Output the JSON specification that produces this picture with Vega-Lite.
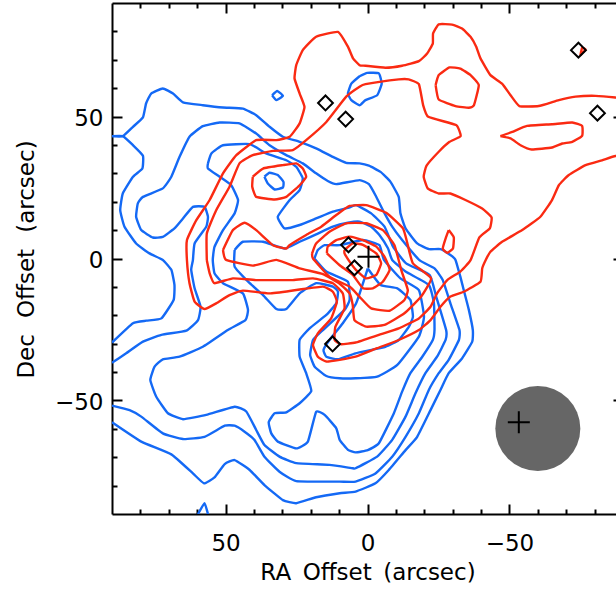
{"$schema":"https://vega.github.io/schema/vega-lite/v6.json","width":511,"height":511,"autosize":{"type":"none"},"padding":{"left":112,"top":3,"right":0,"bottom":78},"background":"white","config":{"view":{"stroke":null},"axis":{"grid":false,"domainColor":"black","domainWidth":2,"tickColor":"black","tickWidth":2,"labelFont":"DejaVu Sans","titleFont":"DejaVu Sans","labelFontSize":23,"titleFontSize":23,"titleFontWeight":"normal","labelColor":"black","titleColor":"black"}},"datasets":{"blue":[
{"c":"a","x":90,"y":43.1},{"c":"a","x":86.2,"y":43.1},{"c":"a","x":82.6,"y":46.4},{"c":"a","x":79.1,"y":49.7},{"c":"a","x":78,"y":54.6},{"c":"a","x":76.2,"y":58.1},{"c":"a","x":72.1,"y":59.9},{"c":"a","x":68.5,"y":58.1},{"c":"a","x":65,"y":55},{"c":"a","x":58,"y":54},{"c":"a","x":50.9,"y":53.2},{"c":"a","x":43.9,"y":52.8},{"c":"a","x":39.2,"y":50.5},{"c":"a","x":34.5,"y":46.4},{"c":"a","x":29.8,"y":42.9},{"c":"a","x":23.9,"y":41.1},{"c":"a","x":18.1,"y":38.8},{"c":"a","x":12.2,"y":35.8},{"c":"a","x":7.5,"y":33.7},{"c":"a","x":2.8,"y":33.5},{"c":"a","x":-0.5,"y":32.7},{"c":"a","x":-4.6,"y":30.5},{"c":"a","x":-8.1,"y":27},{"c":"a","x":-11,"y":21.7},{"c":"a","x":-11.6,"y":15.9},{"c":"a","x":-13.4,"y":10.6},{"c":"a","x":-17.5,"y":5.3},{"c":"a","x":-21.6,"y":3.3},{"c":"a","x":-25.7,"y":3.3},{"c":"a","x":-29.2,"y":1.2},{"c":"a","x":-31,"y":-0.5},{"c":"a","x":-32.7,"y":-6.4},{"c":"a","x":-33.9,"y":-11.1},{"c":"a","x":-35.7,"y":-18.1},{"c":"a","x":-37.1,"y":-25.2},{"c":"a","x":-36.9,"y":-29.3},{"c":"a","x":-33.3,"y":-35.2},{"c":"a","x":-28.6,"y":-40.4},{"c":"a","x":-25.7,"y":-46.3},{"c":"a","x":-22.2,"y":-53.4},{"c":"a","x":-17.5,"y":-62.8},{"c":"a","x":-13.4,"y":-67.5},{"c":"a","x":-7.5,"y":-74.5},{"c":"a","x":-2.8,"y":-79.2},{"c":"a","x":4.2,"y":-82.1},{"c":"a","x":9.8,"y":-82.7},{"c":"a","x":18.1,"y":-84.1},{"c":"a","x":25.1,"y":-86.2},{"c":"a","x":29.8,"y":-85.1},{"c":"a","x":36.3,"y":-79.8},{"c":"a","x":41.5,"y":-74.5},{"c":"a","x":46.8,"y":-71},{"c":"a","x":50.3,"y":-72.4},{"c":"a","x":53.9,"y":-77.1},{"c":"a","x":57.6,"y":-79.2},{"c":"a","x":61.5,"y":-75.7},{"c":"a","x":69.1,"y":-69},{"c":"a","x":79.7,"y":-64.5},{"c":"a","x":90,"y":-57.7},
{"c":"b","x":90,"y":43.1},{"c":"b","x":86.2,"y":43.1},{"c":"b","x":82.6,"y":39.9},{"c":"b","x":79.1,"y":36.2},{"c":"b","x":79.3,"y":31.7},{"c":"b","x":82.6,"y":28.8},{"c":"b","x":86.2,"y":22.9},{"c":"b","x":87.1,"y":17},{"c":"b","x":85.6,"y":11.2},{"c":"b","x":81.5,"y":5.3},{"c":"b","x":76.8,"y":1.8},{"c":"b","x":72.1,"y":-0.5},{"c":"b","x":69.1,"y":-4},{"c":"b","x":68,"y":-9.3},{"c":"b","x":68.3,"y":-14.6},{"c":"b","x":72.6,"y":-21.1},{"c":"b","x":77.9,"y":-21.9},{"c":"b","x":82.6,"y":-22.8},{"c":"b","x":90,"y":-29.6},
{"c":"l2","x":90,"y":-36.7},{"c":"l2","x":85,"y":-33.4},{"c":"l2","x":79.1,"y":-29.3},{"c":"l2","x":72.6,"y":-26.9},{"c":"l2","x":63.8,"y":-25.4},{"c":"l2","x":59.7,"y":-21.7},{"c":"l2","x":58.8,"y":-17},{"c":"l2","x":60.9,"y":-10.5},{"c":"l2","x":62.1,"y":-4},{"c":"l2","x":61.5,"y":-0.6},{"c":"l2","x":60.9,"y":5.3},{"c":"l2","x":56.8,"y":11.2},{"c":"l2","x":56.2,"y":14.7},{"c":"l2","x":57.4,"y":18.2},{"c":"l2","x":61.5,"y":18.2},{"c":"l2","x":65,"y":14.1},{"c":"l2","x":68,"y":10.6},{"c":"l2","x":72.1,"y":7.6},{"c":"l2","x":75.6,"y":7.4},{"c":"l2","x":79.7,"y":10},{"c":"l2","x":81.5,"y":14.7},{"c":"l2","x":80.9,"y":19.4},{"c":"l2","x":79.1,"y":21.7},{"c":"l2","x":72.1,"y":24.7},{"c":"l2","x":69.1,"y":28.8},{"c":"l2","x":66.2,"y":35.8},{"c":"l2","x":62.7,"y":42.9},{"c":"l2","x":58,"y":46.6},{"c":"l2","x":52.1,"y":47.9},{"c":"l2","x":45.1,"y":47.6},{"c":"l2","x":39.2,"y":44},{"c":"l2","x":34.5,"y":39.9},{"c":"l2","x":28.6,"y":36.4},{"c":"l2","x":22.8,"y":33.5},{"c":"l2","x":18.1,"y":30},{"c":"l2","x":14,"y":27.3},{"c":"l2","x":11,"y":26.2},{"c":"l2","x":2.8,"y":27.6},{"c":"l2","x":-0.5,"y":26.2},{"c":"l2","x":-2.8,"y":22.3},{"c":"l2","x":-5.7,"y":16.5},{"c":"l2","x":-8.7,"y":11.2},{"c":"l2","x":-12.2,"y":6.5},{"c":"l2","x":-18.3,"y":-0.6},{"c":"l2","x":-23.6,"y":-3.5},{"c":"l2","x":-26.5,"y":-7.6},{"c":"l2","x":-29.2,"y":-15.8},{"c":"l2","x":-32.4,"y":-25.2},{"c":"l2","x":-32.2,"y":-28.7},{"c":"l2","x":-28.6,"y":-35.7},{"c":"l2","x":-25.1,"y":-40.4},{"c":"l2","x":-21.6,"y":-46.3},{"c":"l2","x":-18.1,"y":-54.5},{"c":"l2","x":-13.4,"y":-62.8},{"c":"l2","x":-8.7,"y":-69.8},{"c":"l2","x":-2.8,"y":-75.7},{"c":"l2","x":4.2,"y":-78.6},{"c":"l2","x":9.8,"y":-78.6},{"c":"l2","x":25.1,"y":-78.4},{"c":"l2","x":31,"y":-75.1},{"c":"l2","x":36.3,"y":-69.8},{"c":"l2","x":39.8,"y":-63.9},{"c":"l2","x":43.3,"y":-61},{"c":"l2","x":46.8,"y":-58.9},{"c":"l2","x":50.3,"y":-58.9},{"c":"l2","x":57.4,"y":-62.8},{"c":"l2","x":65,"y":-63.6},{"c":"l2","x":72.1,"y":-61.6},{"c":"l2","x":79.7,"y":-55.7},{"c":"l2","x":83.8,"y":-53.4},{"c":"l2","x":90,"y":-51.8},
{"c":"l3","x":56.2,"y":33.5},{"c":"l3","x":55,"y":37},{"c":"l3","x":50.9,"y":39.9},{"c":"l3","x":41.5,"y":40.3},{"c":"l3","x":35.7,"y":37},{"c":"l3","x":28.6,"y":34.6},{"c":"l3","x":25.1,"y":32.3},{"c":"l3","x":22.8,"y":28.2},{"c":"l3","x":23.9,"y":24.1},{"c":"l3","x":27.4,"y":20.6},{"c":"l3","x":31.6,"y":14.7},{"c":"l3","x":29.2,"y":10.6},{"c":"l3","x":23.9,"y":11.8},{"c":"l3","x":18.1,"y":14.1},{"c":"l3","x":12.2,"y":16.5},{"c":"l3","x":6.3,"y":18},{"c":"l3","x":4,"y":18.8},{"c":"l3","x":-1.3,"y":15.9},{"c":"l3","x":-6,"y":11.2},{"c":"l3","x":-9,"y":4.2},{"c":"l3","x":-13.6,"y":-1.7},{"c":"l3","x":-21.9,"y":-5.8},{"c":"l3","x":-24.2,"y":-13.4},{"c":"l3","x":-27.7,"y":-25.2},{"c":"l3","x":-27.5,"y":-28.7},{"c":"l3","x":-24.5,"y":-34.6},{"c":"l3","x":-20.4,"y":-40.4},{"c":"l3","x":-16.9,"y":-47.5},{"c":"l3","x":-13.4,"y":-55.7},{"c":"l3","x":-8.7,"y":-63.9},{"c":"l3","x":-3.4,"y":-69.8},{"c":"l3","x":4.2,"y":-73.9},{"c":"l3","x":5.1,"y":-73.9},{"c":"l3","x":13.4,"y":-72.7},{"c":"l3","x":25.1,"y":-72.1},{"c":"l3","x":31,"y":-69.8},{"c":"l3","x":36.3,"y":-65.7},{"c":"l3","x":39.2,"y":-60.4},{"c":"l3","x":42.7,"y":-53.9},{"c":"l3","x":46.8,"y":-52.2},{"c":"l3","x":56.8,"y":-55.1},{"c":"l3","x":65,"y":-56.6},{"c":"l3","x":70.3,"y":-54.5},{"c":"l3","x":74.4,"y":-48.7},{"c":"l3","x":76.5,"y":-42.8},{"c":"l3","x":75,"y":-38.1},{"c":"l3","x":72.1,"y":-35.5},{"c":"l3","x":66.2,"y":-34.6},{"c":"l3","x":58,"y":-31.1},{"c":"l3","x":49.2,"y":-25.2},{"c":"l3","x":43,"y":-21.7},{"c":"l3","x":42.1,"y":-18.1},{"c":"l3","x":43.9,"y":-12.3},{"c":"l3","x":50.9,"y":-8.7},{"c":"l3","x":53.9,"y":-5.2},{"c":"l3","x":54.5,"y":-0.5},{"c":"l3","x":53.9,"y":4.1},{"c":"l3","x":50.9,"y":10},{"c":"l3","x":46.8,"y":15.9},{"c":"l3","x":45.6,"y":20.6},{"c":"l3","x":48,"y":25.8},{"c":"l3","x":52.1,"y":28.8},{"c":"l3","x":56.2,"y":31.7},{"c":"l3","x":56.2,"y":33.5},
{"c":"l4","x":46.8,"y":3},{"c":"l4","x":43.9,"y":5.9},{"c":"l4","x":36.8,"y":5.9},{"c":"l4","x":29.2,"y":3.5},{"c":"l4","x":23.9,"y":5.9},{"c":"l4","x":18.1,"y":8.5},{"c":"l4","x":12.2,"y":11.2},{"c":"l4","x":6.9,"y":12.6},{"c":"l4","x":2.8,"y":13},{"c":"l4","x":-1.3,"y":11.2},{"c":"l4","x":-4.2,"y":8.3},{"c":"l4","x":-7.2,"y":3.6},{"c":"l4","x":-8.7,"y":-0.5},{"c":"l4","x":-13.4,"y":-4.6},{"c":"l4","x":-21.6,"y":-9.3},{"c":"l4","x":-23.4,"y":-15.8},{"c":"l4","x":-23.6,"y":-25.2},{"c":"l4","x":-23,"y":-28.7},{"c":"l4","x":-19.3,"y":-34.6},{"c":"l4","x":-15.1,"y":-40.4},{"c":"l4","x":-12.2,"y":-46.9},{"c":"l4","x":-9.3,"y":-54.5},{"c":"l4","x":-4,"y":-65.1},{"c":"l4","x":-0.1,"y":-67.5},{"c":"l4","x":4.2,"y":-68.3},{"c":"l4","x":6.9,"y":-67.4},{"c":"l4","x":9.8,"y":-63.9},{"c":"l4","x":11,"y":-59.8},{"c":"l4","x":15.1,"y":-55.1},{"c":"l4","x":18.1,"y":-54},{"c":"l4","x":21,"y":-64.5},{"c":"l4","x":25.1,"y":-66.9},{"c":"l4","x":31.6,"y":-64.5},{"c":"l4","x":33.9,"y":-61.6},{"c":"l4","x":34.8,"y":-57.7},{"c":"l4","x":32.7,"y":-54.5},{"c":"l4","x":28.6,"y":-54.2},{"c":"l4","x":23.9,"y":-51},{"c":"l4","x":19.8,"y":-46.7},{"c":"l4","x":21.6,"y":-40.4},{"c":"l4","x":23.9,"y":-34.6},{"c":"l4","x":23.9,"y":-28.7},{"c":"l4","x":20.4,"y":-24.6},{"c":"l4","x":14.5,"y":-19.9},{"c":"l4","x":11,"y":-15.8},{"c":"l4","x":10.4,"y":-11.7},{"c":"l4","x":12.2,"y":-9.9},{"c":"l4","x":18.1,"y":-8.7},{"c":"l4","x":23.9,"y":-12.3},{"c":"l4","x":28.6,"y":-17.8},{"c":"l4","x":32.1,"y":-17.8},{"c":"l4","x":36.8,"y":-12.9},{"c":"l4","x":41.5,"y":-8.7},{"c":"l4","x":46.8,"y":-2.9},{"c":"l4","x":46.8,"y":3},
{"c":"l5","x":18.7,"y":0},{"c":"l5","x":17.5,"y":3},{"c":"l5","x":15.1,"y":4.7},{"c":"l5","x":9.8,"y":4.7},{"c":"l5","x":1.6,"y":6.5},{"c":"l5","x":-4.2,"y":4.7},{"c":"l5","x":-5.8,"y":-0.5},{"c":"l5","x":-11.6,"y":-7},{"c":"l5","x":-18.1,"y":-11.1},{"c":"l5","x":-19.9,"y":-20.5},{"c":"l5","x":-18.1,"y":-27.5},{"c":"l5","x":-10.5,"y":-37.5},{"c":"l5","x":-3.4,"y":-41.6},{"c":"l5","x":4.2,"y":-42.2},{"c":"l5","x":9.8,"y":-42.2},{"c":"l5","x":14.5,"y":-41.4},{"c":"l5","x":18.6,"y":-38.1},{"c":"l5","x":20.2,"y":-34},{"c":"l5","x":19.2,"y":-28.7},{"c":"l5","x":15.7,"y":-25.2},{"c":"l5","x":8.1,"y":-18.1},{"c":"l5","x":6.3,"y":-14.6},{"c":"l5","x":6.9,"y":-8.2},{"c":"l5","x":14.5,"y":-4.6},{"c":"l5","x":18.7,"y":0},
{"c":"l6","x":-0.1,"y":-3.5},{"c":"l6","x":-4.6,"y":-9.3},{"c":"l6","x":-10.5,"y":-10.5},{"c":"l6","x":-15.1,"y":-14.6},{"c":"l6","x":-16,"y":-20.5},{"c":"l6","x":-14.6,"y":-24},{"c":"l6","x":-11,"y":-28.7},{"c":"l6","x":-6.3,"y":-31.1},{"c":"l6","x":4.2,"y":-33.4},{"c":"l6","x":10.4,"y":-35.5},{"c":"l6","x":14.5,"y":-34.6},{"c":"l6","x":15.5,"y":-32.2},{"c":"l6","x":13.4,"y":-28.7},{"c":"l6","x":8.7,"y":-22.8},{"c":"l6","x":4,"y":-15.8},{"c":"l6","x":-0.1,"y":-3.5},
{"c":"s1","x":33.6,"y":57.5},{"c":"s1","x":31.8,"y":59},{"c":"s1","x":29.8,"y":57.3},{"c":"s1","x":32.1,"y":55.8},{"c":"s1","x":33.6,"y":57.5},
{"c":"s2","x":36.3,"y":28.8},{"c":"s2","x":34.5,"y":30.2},{"c":"s2","x":31.6,"y":29.4},{"c":"s2","x":29.6,"y":27},{"c":"s2","x":29.8,"y":25},{"c":"s2","x":32.7,"y":24.3},{"c":"s2","x":35.1,"y":26.4},{"c":"s2","x":36.3,"y":28.8},
{"c":"s3","x":2.8,"y":64.2},{"c":"s3","x":5.7,"y":61.6},{"c":"s3","x":6.9,"y":58.1},{"c":"s3","x":5.7,"y":55.8},{"c":"s3","x":2.8,"y":54},{"c":"s3","x":0.7,"y":55.8},{"c":"s3","x":-3.4,"y":57.5},{"c":"s3","x":-5,"y":61.6},{"c":"s3","x":-4,"y":65.2},{"c":"s3","x":0.1,"y":65.4},{"c":"s3","x":2.8,"y":64.2},
{"c":"s4","x":59.7,"y":-90},{"c":"s4","x":57.4,"y":-86.2},{"c":"s4","x":56.2,"y":-90}
],"red":[
{"c":"r1","x":-90,"y":35.5},{"c":"r1","x":-87.3,"y":36.1},{"c":"r1","x":-82.6,"y":34.6},{"c":"r1","x":-76.8,"y":32.9},{"c":"r1","x":-70.9,"y":29.4},{"c":"r1","x":-67.4,"y":25.8},{"c":"r1","x":-65,"y":20.6},{"c":"r1","x":-60.9,"y":14.7},{"c":"r1","x":-54.5,"y":10},{"c":"r1","x":-47.4,"y":5.9},{"c":"r1","x":-43.3,"y":2.4},{"c":"r1","x":-41.6,"y":-0.6},{"c":"r1","x":-40.4,"y":-3.5},{"c":"r1","x":-39.8,"y":-8.2},{"c":"r1","x":-33.9,"y":-11.7},{"c":"r1","x":-29.2,"y":-13.4},{"c":"r1","x":-25.7,"y":-17},{"c":"r1","x":-22.2,"y":-21.7},{"c":"r1","x":-18.1,"y":-25.2},{"c":"r1","x":-11,"y":-28.7},{"c":"r1","x":-3.4,"y":-31.6},{"c":"r1","x":4.2,"y":-34.6},{"c":"r1","x":9.8,"y":-35.7},{"c":"r1","x":14.5,"y":-36.3},{"c":"r1","x":17.5,"y":-34.6},{"c":"r1","x":19.2,"y":-30.5},{"c":"r1","x":17.5,"y":-26.4},{"c":"r1","x":12.8,"y":-21.1},{"c":"r1","x":10.8,"y":-15.2},{"c":"r1","x":12.2,"y":-11.7},{"c":"r1","x":15.7,"y":-9.9},{"c":"r1","x":25.1,"y":-11.1},{"c":"r1","x":34.5,"y":-12.3},{"c":"r1","x":43.9,"y":-11.3},{"c":"r1","x":48.6,"y":-12.9},{"c":"r1","x":53.3,"y":-15.8},{"c":"r1","x":57.4,"y":-17.8},{"c":"r1","x":60.9,"y":-15.2},{"c":"r1","x":62.7,"y":-8.7},{"c":"r1","x":63.6,"y":-0.6},{"c":"r1","x":63.6,"y":6.5},{"c":"r1","x":60.3,"y":13.5},{"c":"r1","x":55.6,"y":20.6},{"c":"r1","x":50.9,"y":30},{"c":"r1","x":46.2,"y":36.4},{"c":"r1","x":39.2,"y":41.7},{"c":"r1","x":32.1,"y":41.7},{"c":"r1","x":27.4,"y":42.9},{"c":"r1","x":23.9,"y":47.6},{"c":"r1","x":22.2,"y":53.4},{"c":"r1","x":23.9,"y":58.1},{"c":"r1","x":25.7,"y":63.4},{"c":"r1","x":25.1,"y":68.1},{"c":"r1","x":22.8,"y":73.4},{"c":"r1","x":18.1,"y":78.1},{"c":"r1","x":10.4,"y":79.8},{"c":"r1","x":6.9,"y":74.6},{"c":"r1","x":5.1,"y":70.5},{"c":"r1","x":2.8,"y":68.1},{"c":"r1","x":0.7,"y":67.9},{"c":"r1","x":-6.3,"y":67.2},{"c":"r1","x":-12.2,"y":67.9},{"c":"r1","x":-18.1,"y":69.5},{"c":"r1","x":-21,"y":72.2},{"c":"r1","x":-23,"y":75.7},{"c":"r1","x":-23.1,"y":79.3},{"c":"r1","x":-25.1,"y":82.5},{"c":"r1","x":-29.8,"y":82.4},{"c":"r1","x":-33.3,"y":81},{"c":"r1","x":-36.3,"y":78.1},{"c":"r1","x":-38.3,"y":74.6},{"c":"r1","x":-39.8,"y":70.5},{"c":"r1","x":-43.3,"y":64.6},{"c":"r1","x":-47.4,"y":61.6},{"c":"r1","x":-50.4,"y":57.5},{"c":"r1","x":-53.5,"y":53.7},{"c":"r1","x":-60.3,"y":53.7},{"c":"r1","x":-67.4,"y":55.8},{"c":"r1","x":-73.3,"y":57},{"c":"r1","x":-80.3,"y":57.3},{"c":"r1","x":-87.3,"y":56.7},{"c":"r1","x":-90,"y":56.2},
{"c":"r2","x":56.6,"y":-0.6},{"c":"r2","x":56.6,"y":8.8},{"c":"r2","x":53.3,"y":17},{"c":"r2","x":48.6,"y":25.3},{"c":"r2","x":45.1,"y":33.5},{"c":"r2","x":40.4,"y":36.4},{"c":"r2","x":33.3,"y":37.9},{"c":"r2","x":26.3,"y":38.2},{"c":"r2","x":21.6,"y":41.7},{"c":"r2","x":14.5,"y":48.1},{"c":"r2","x":7.5,"y":57},{"c":"r2","x":2.8,"y":60.5},{"c":"r2","x":0.7,"y":61.4},{"c":"r2","x":-11,"y":63.1},{"c":"r2","x":-14.5,"y":63.1},{"c":"r2","x":-18.1,"y":61.4},{"c":"r2","x":-19.6,"y":54},{"c":"r2","x":-21.4,"y":49.9},{"c":"r2","x":-31.2,"y":47},{"c":"r2","x":-32.8,"y":43.1},{"c":"r2","x":-28.9,"y":41.1},{"c":"r2","x":-25.1,"y":37.6},{"c":"r2","x":-20.8,"y":32.7},{"c":"r2","x":-19.8,"y":28.8},{"c":"r2","x":-21.2,"y":24.7},{"c":"r2","x":-25.1,"y":22.9},{"c":"r2","x":-29.2,"y":22.9},{"c":"r2","x":-34.5,"y":20.6},{"c":"r2","x":-40.4,"y":17.6},{"c":"r2","x":-43.7,"y":14.5},{"c":"r2","x":-43.1,"y":10.6},{"c":"r2","x":-39.4,"y":7.4},{"c":"r2","x":-36.3,"y":-0.6},{"c":"r2","x":-32.7,"y":-4.6},{"c":"r2","x":-28.1,"y":-7.6},{"c":"r2","x":-24.5,"y":-12.3},{"c":"r2","x":-22.2,"y":-17},{"c":"r2","x":-18.1,"y":-21.1},{"c":"r2","x":-11,"y":-24.6},{"c":"r2","x":-4,"y":-26.9},{"c":"r2","x":4.2,"y":-29.6},{"c":"r2","x":9.3,"y":-30.2},{"c":"r2","x":11.6,"y":-28.7},{"c":"r2","x":11.3,"y":-24},{"c":"r2","x":8.1,"y":-17.6},{"c":"r2","x":8.7,"y":-12.3},{"c":"r2","x":12.2,"y":-8.7},{"c":"r2","x":19.2,"y":-7},{"c":"r2","x":26.3,"y":-7.6},{"c":"r2","x":39.2,"y":-7.6},{"c":"r2","x":47.4,"y":-7},{"c":"r2","x":53.9,"y":-8.7},{"c":"r2","x":55.6,"y":-5.2},{"c":"r2","x":56.6,"y":-0.6},
{"c":"r3","x":40.4,"y":28.8},{"c":"r3","x":36.8,"y":31.7},{"c":"r3","x":29.8,"y":32.9},{"c":"r3","x":25.1,"y":33.5},{"c":"r3","x":22.8,"y":31.7},{"c":"r3","x":21.6,"y":28.8},{"c":"r3","x":23.9,"y":25.8},{"c":"r3","x":28.6,"y":21.7},{"c":"r3","x":32.7,"y":20.8},{"c":"r3","x":39.2,"y":21.7},{"c":"r3","x":40.6,"y":25.3},{"c":"r3","x":40.4,"y":28.8},
{"c":"r10","x":-24,"y":61.1},{"c":"r10","x":-25.1,"y":64.6},{"c":"r10","x":-28.9,"y":67.3},{"c":"r10","x":-32.7,"y":66.9},{"c":"r10","x":-36.3,"y":64.6},{"c":"r10","x":-39.2,"y":61.1},{"c":"r10","x":-37.5,"y":54},{"c":"r10","x":-35.7,"y":53.1},{"c":"r10","x":-31,"y":53.7},{"c":"r10","x":-25.1,"y":56},{"c":"r10","x":-24,"y":61.1},
{"c":"r11","x":-46.8,"y":43.1},{"c":"r11","x":-51,"y":44.6},{"c":"r11","x":-56.2,"y":46.7},{"c":"r11","x":-65,"y":47.3},{"c":"r11","x":-72.1,"y":47.9},{"c":"r11","x":-75.6,"y":46.7},{"c":"r11","x":-75.6,"y":43.2},{"c":"r11","x":-72.1,"y":41.1},{"c":"r11","x":-68.6,"y":40.5},{"c":"r11","x":-65,"y":39.1},{"c":"r11","x":-57.8,"y":38.4},{"c":"r11","x":-53.9,"y":39.9},{"c":"r11","x":-50.4,"y":42.3},{"c":"r11","x":-46.8,"y":43.1},
{"c":"r12","x":-28.6,"y":10},{"c":"r12","x":-30.4,"y":7.4},{"c":"r12","x":-30.1,"y":3.5},{"c":"r12","x":-28.1,"y":2},{"c":"r12","x":-26.5,"y":3.5},{"c":"r12","x":-27.7,"y":7.6},{"c":"r12","x":-28.6,"y":10},
{"c":"r13","x":-75,"y":71.6},{"c":"r13","x":-76.8,"y":73.6},{"c":"r13","x":-75.6,"y":74.2},{"c":"r13","x":-75,"y":71.6},
{"c":"r5","x":50.9,"y":3},{"c":"r5","x":47.4,"y":10},{"c":"r5","x":43.3,"y":12.6},{"c":"r5","x":39.2,"y":10},{"c":"r5","x":33.3,"y":4.7},{"c":"r5","x":28.6,"y":3.5},{"c":"r5","x":27.5,"y":4.7},{"c":"r5","x":21.6,"y":8.3},{"c":"r5","x":16.3,"y":11.2},{"c":"r5","x":11,"y":15.3},{"c":"r5","x":6.3,"y":18.5},{"c":"r5","x":0.5,"y":18.8},{"c":"r5","x":-6.6,"y":16.1},{"c":"r5","x":-12.5,"y":10.6},{"c":"r5","x":-14.2,"y":4.7},{"c":"r5","x":-16,"y":-1.7},{"c":"r5","x":-22.4,"y":-7},{"c":"r5","x":-18.9,"y":-13.4},{"c":"r5","x":-13,"y":-19.3},{"c":"r5","x":-6,"y":-23.4},{"c":"r5","x":0.5,"y":-24},{"c":"r5","x":4.6,"y":-21.7},{"c":"r5","x":5.2,"y":-16.4},{"c":"r5","x":6.3,"y":-12.3},{"c":"r5","x":9.9,"y":-8.8},{"c":"r5","x":15.7,"y":-5.5},{"c":"r5","x":23.9,"y":-3.5},{"c":"r5","x":32.1,"y":-0.5},{"c":"r5","x":40.4,"y":-2.5},{"c":"r5","x":49.8,"y":-0.5},{"c":"r5","x":50.9,"y":3},
{"c":"r6","x":19.5,"y":1.8},{"c":"r6","x":18.1,"y":5.3},{"c":"r6","x":13.4,"y":9.4},{"c":"r6","x":7.5,"y":12.4},{"c":"r6","x":0.5,"y":12.4},{"c":"r6","x":-5.4,"y":10},{"c":"r6","x":-9.5,"y":4.7},{"c":"r6","x":-11.9,"y":-4.1},{"c":"r6","x":-14.2,"y":-11.1},{"c":"r6","x":-13,"y":-14.6},{"c":"r6","x":-7.8,"y":-18.4},{"c":"r6","x":-1.3,"y":-17.6},{"c":"r6","x":2.8,"y":-13.5},{"c":"r6","x":6.3,"y":-9.9},{"c":"r6","x":13.4,"y":-6.4},{"c":"r6","x":19.2,"y":0},{"c":"r6","x":19.5,"y":1.8},
{"c":"r7","x":14.3,"y":1.8},{"c":"r7","x":14,"y":4.2},{"c":"r7","x":11,"y":6.5},{"c":"r7","x":6.3,"y":7.7},{"c":"r7","x":1.6,"y":6.5},{"c":"r7","x":-3.1,"y":4.2},{"c":"r7","x":-6,"y":0.6},{"c":"r7","x":-7.8,"y":-4},{"c":"r7","x":-5.4,"y":-8.2},{"c":"r7","x":-1.9,"y":-10.5},{"c":"r7","x":1.6,"y":-10.5},{"c":"r7","x":5.2,"y":-5.8},{"c":"r7","x":9.9,"y":-2.3},{"c":"r7","x":14.3,"y":1.8},
{"c":"r8","x":8.1,"y":3},{"c":"r8","x":5.2,"y":5.3},{"c":"r8","x":1.6,"y":4.8},{"c":"r8","x":-3.1,"y":1.8},{"c":"r8","x":-4.8,"y":-1.7},{"c":"r8","x":-3.1,"y":-5.8},{"c":"r8","x":0.5,"y":-7},{"c":"r8","x":4,"y":-4.1},{"c":"r8","x":6.3,"y":-1.1},{"c":"r8","x":8.1,"y":1.8},{"c":"r8","x":8.1,"y":3}
],"src":[{"x":14.8,"y":54.8},{"x":7.7,"y":49.1},{"x":6.7,"y":4.8},{"x":4.6,"y":-3.3},{"x":12.3,"y":-30.1},{"x":-74.3,"y":73.4},{"x":-81,"y":51.2}],"cross":[{"x":-0.35,"y":0.6},{"x":-53.3,"y":-57.7}],"beam":[{"x":-60,"y":-59.9}]},
"resolve":{"axis":{"x":"independent","y":"independent"}},
"layer":[
{"data":{"name":"beam"},"mark":{"type":"point","shape":"circle","filled":true,"fill":"#666666","stroke":null,"opacity":1,"size":7225},"encoding":{"x":{"field":"x","type":"quantitative","scale":{"domain":[90,-90],"nice":false,"zero":false},"axis":{"orient":"bottom","title":"RA\u2002Offset\u2002(arcsec)","titleX":255.5,"titleY":65,"titleBaseline":"alphabetic","values":[80,70,60,50,40,30,20,10,0,-10,-20,-30,-40,-50,-60,-70,-80],"tickSize":{"condition":{"test":"abs(datum.value)%50==0","value":-10},"value":-5},"labelPadding":28,"labelOverlap":false,"labelFlush":false,"labelExpr":"datum.value==0?'0':datum.value==50?'50':datum.value==-50?'−50':''"}},"y":{"field":"y","type":"quantitative","scale":{"domain":[-90,90],"nice":false,"zero":false},"axis":{"orient":"left","title":"Dec\u2002\u2009Offset\u2002\u2009(arcsec)","titleX":-79,"titleY":256,"titleBaseline":"alphabetic","values":[80,70,60,50,40,30,20,10,0,-10,-20,-30,-40,-50,-60,-70,-80],"tickSize":{"condition":{"test":"abs(datum.value)%50==0","value":-10},"value":-5},"labelPadding":19,"labelOffset":2,"labelOverlap":false,"labelFlush":false,"labelExpr":"datum.value==0?'0':datum.value==50?'50':datum.value==-50?'−50':''"}}}},
{"data":{"name":"blue"},"mark":{"type":"line","stroke":"#1469f5","strokeWidth":2.4,"clip":true,"strokeJoin":"round","interpolate":"cardinal","tension":0.6},"encoding":{"x":{"field":"x","type":"quantitative","axis":{"orient":"top","title":null,"labels":false,"values":[80,70,60,50,40,30,20,10,0,-10,-20,-30,-40,-50,-60,-70,-80],"tickSize":{"condition":{"test":"abs(datum.value)%50==0","value":-10},"value":-5}}},"y":{"field":"y","type":"quantitative","axis":{"orient":"right","title":null,"labels":false,"values":[80,70,60,50,40,30,20,10,0,-10,-20,-30,-40,-50,-60,-70,-80],"tickSize":{"condition":{"test":"abs(datum.value)%50==0","value":-10},"value":-5}}},"detail":{"field":"c"},"order":{"value":null}}},
{"data":{"name":"red"},"mark":{"type":"line","stroke":"#fa2a12","strokeWidth":2.4,"clip":true,"strokeJoin":"round","interpolate":"cardinal","tension":0.6},"encoding":{"x":{"field":"x","type":"quantitative","axis":null},"y":{"field":"y","type":"quantitative","axis":null},"detail":{"field":"c"},"order":{"value":null}}},
{"data":{"name":"src"},"mark":{"type":"point","shape":"diamond","filled":false,"stroke":"black","strokeWidth":2,"size":220,"opacity":1},"encoding":{"x":{"field":"x","type":"quantitative","axis":null},"y":{"field":"y","type":"quantitative","axis":null}}},
{"data":{"name":"cross"},"mark":{"type":"point","shape":"M-1,0L1,0M0,-1L0,1","filled":false,"stroke":"black","strokeWidth":2,"size":484,"opacity":1},"encoding":{"x":{"field":"x","type":"quantitative","axis":null},"y":{"field":"y","type":"quantitative","axis":null}}}
]}
